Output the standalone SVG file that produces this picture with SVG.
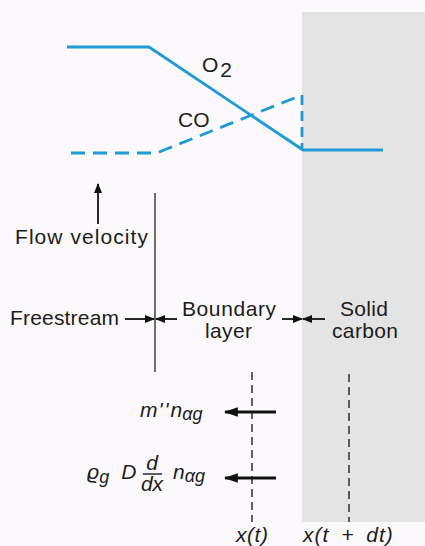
<svg xmlns="http://www.w3.org/2000/svg" width="425" height="546" viewBox="0 0 425 546">
<defs>
<style>
.bg{fill:#fcf9fc}
.solid{fill:#e5e4e4}
.blue{fill:none;stroke:#1e9ad6;stroke-width:2.8;stroke-linejoin:round}
.dash{stroke-dasharray:14 8}
.lbl{font-family:"Liberation Sans","DejaVu Sans",Arial,sans-serif;font-size:21px;fill:#1c1c1c}
.mth{font-family:"Liberation Sans","DejaVu Sans",Arial,sans-serif;font-style:italic;font-size:21px;fill:#1c1c1c}
.thin{stroke:#222;stroke-width:1.3;fill:none}
.ar{stroke:#111;stroke-width:1.8;fill:none}
.arb{stroke:#111;stroke-width:2.8;fill:none}
.dl{stroke:#222;stroke-width:1.4;stroke-dasharray:8 5;fill:none}
</style>
<marker id="ah" viewBox="0 0 10 8" refX="9" refY="4" markerWidth="11" markerHeight="8" markerUnits="userSpaceOnUse" orient="auto">
<path d="M0,0 L10,4 L0,8 z" fill="#111"/>
</marker>
<marker id="ahb" viewBox="0 0 12 8" refX="11" refY="4" markerWidth="14" markerHeight="10" markerUnits="userSpaceOnUse" orient="auto">
<path d="M0,0 L12,4 L0,8 z" fill="#111"/>
</marker>
</defs>
<rect class="bg" x="0" y="0" width="425" height="546"/>
<g id="solid-carbon-region"><rect class="solid" x="302" y="12" width="123" height="510"/></g>

<g id="o2-curve">
<path class="blue" d="M67,47 L149,47 L303,150 L383,150"/>
<text class="lbl" x="202" y="72" font-size="18">O<tspan dx="2" dy="5">2</tspan></text>
</g>
<g id="co-curve">
<path class="blue dash" d="M71,153 L152,153 Q158,153 164,150 L302,95"/>
<path class="blue" d="M302,95 L302,150" stroke-dasharray="10 6"/>
<text class="lbl" x="178" y="127" font-size="20">CO</text>
</g>

<g id="flow-velocity">
<text class="lbl" x="15" y="244" textLength="133">Flow velocity</text>
</g>
<g id="freestream">
<text class="lbl" x="10" y="325" textLength="109">Freestream</text>
</g>
<g id="boundary-layer">
<text class="lbl" x="182" y="316" textLength="94">Boundary</text>
<text class="lbl" x="205" y="338" textLength="47">layer</text>
</g>
<g id="solid-carbon">
<text class="lbl" x="340" y="316" textLength="48">Solid</text>
<text class="lbl" x="332" y="338" textLength="66">carbon</text>
</g>
<g id="edge-line"><line class="thin" x1="155" y1="193" x2="155" y2="372"/></g>

<g id="xt-plane">
<line class="dl" x1="252" y1="372" x2="252" y2="522"/>
<text class="mth" x="236" y="542" textLength="32">x(t)</text>
</g>
<g id="xtdt-plane">
<line class="dl" x1="349" y1="374" x2="349" y2="522"/>
<text class="mth" x="303" y="542" word-spacing="5" letter-spacing="1">x(t + dt)</text>
</g>

<g id="convective-flux">
<text class="mth" x="140" y="417">m<tspan dx="1" letter-spacing="2">''</tspan>n<tspan font-size="18" dy="3">αg</tspan></text>
</g>
<g id="diffusive-flux">
<text class="mth" x="87" y="479">ϱ<tspan font-size="18" dy="4">g</tspan><tspan dx="12" dy="-4">D</tspan></text>
<text class="mth" x="152" y="470" font-size="19" text-anchor="middle">d</text>
<line x1="143" y1="474" x2="162" y2="474" stroke="#1c1c1c" stroke-width="1.4"/>
<text class="mth" x="152" y="491" font-size="19" text-anchor="middle">dx</text>
<text class="mth" x="173" y="479">n<tspan font-size="18" dy="3">αg</tspan></text>
</g>

<g id="connectors">
<line class="ar" x1="98" y1="224" x2="98" y2="184" marker-end="url(#ah)"/>
<line class="ar" x1="125" y1="319" x2="154" y2="319" marker-end="url(#ah)"/>
<line class="ar" x1="177" y1="319" x2="156" y2="319" marker-end="url(#ah)"/>
<line class="ar" x1="282" y1="319" x2="302" y2="319" marker-end="url(#ah)"/>
<line class="ar" x1="325" y1="319" x2="303" y2="319" marker-end="url(#ah)"/>
<line class="arb" x1="276" y1="412" x2="225" y2="412" marker-end="url(#ahb)"/>
<line class="arb" x1="276" y1="478" x2="225" y2="478" marker-end="url(#ahb)"/>
</g>
</svg>
